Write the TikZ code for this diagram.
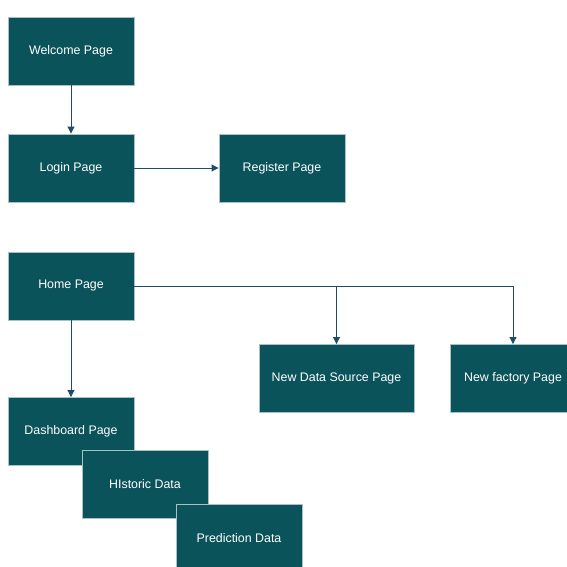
\documentclass[tikz,border=0pt]{standalone}
\usepackage{fontspec}
\setmainfont{Liberation Sans}
\usetikzlibrary{arrows.meta}
\definecolor{boxfill}{HTML}{0B535A}
\definecolor{boxline}{HTML}{A9C0C6}
\definecolor{conn}{HTML}{1F4D68}
\tikzset{
  pagebox/.style={draw=boxline, line width=0.9pt, fill=boxfill, text=white,
    minimum width=126pt, minimum height=68pt, inner sep=0pt,
    font=\fontsize{12.4pt}{14pt}\selectfont},
  conn/.style={draw=conn, line width=0.9pt, -{Triangle[length=7pt,width=7pt]}},
}
\begin{document}
\begin{tikzpicture}[x=1pt,y=-1pt]
\useasboundingbox (0,0) rectangle (567,566);
\node[pagebox] (welcome) at (71,51) {Welcome Page};
\node[pagebox] (login) at (71,168) {Login Page};
\node[pagebox] (register) at (282,168) {Register Page};
\node[pagebox] (home) at (71,286) {Home Page};
\node[pagebox, minimum width=155pt] (newds) at (336.5,378.5) {New Data Source Page};
\node[pagebox] (newfac) at (513,378.5) {New factory Page};
\node[pagebox] (dash) at (71,431.5) {Dashboard Page};
\node[pagebox] (hist) at (145,484.5) {HIstoric Data};
\node[pagebox] (pred) at (239,538) {Prediction Data};
\draw[conn] (welcome) -- (login);
\draw[conn] (login) -- (register);
\draw[conn] (home) -- (dash);
\draw[conn] (home.east) -| (newds.north);
\draw[conn] (home.east) -| (newfac.north);
\end{tikzpicture}
\end{document}
